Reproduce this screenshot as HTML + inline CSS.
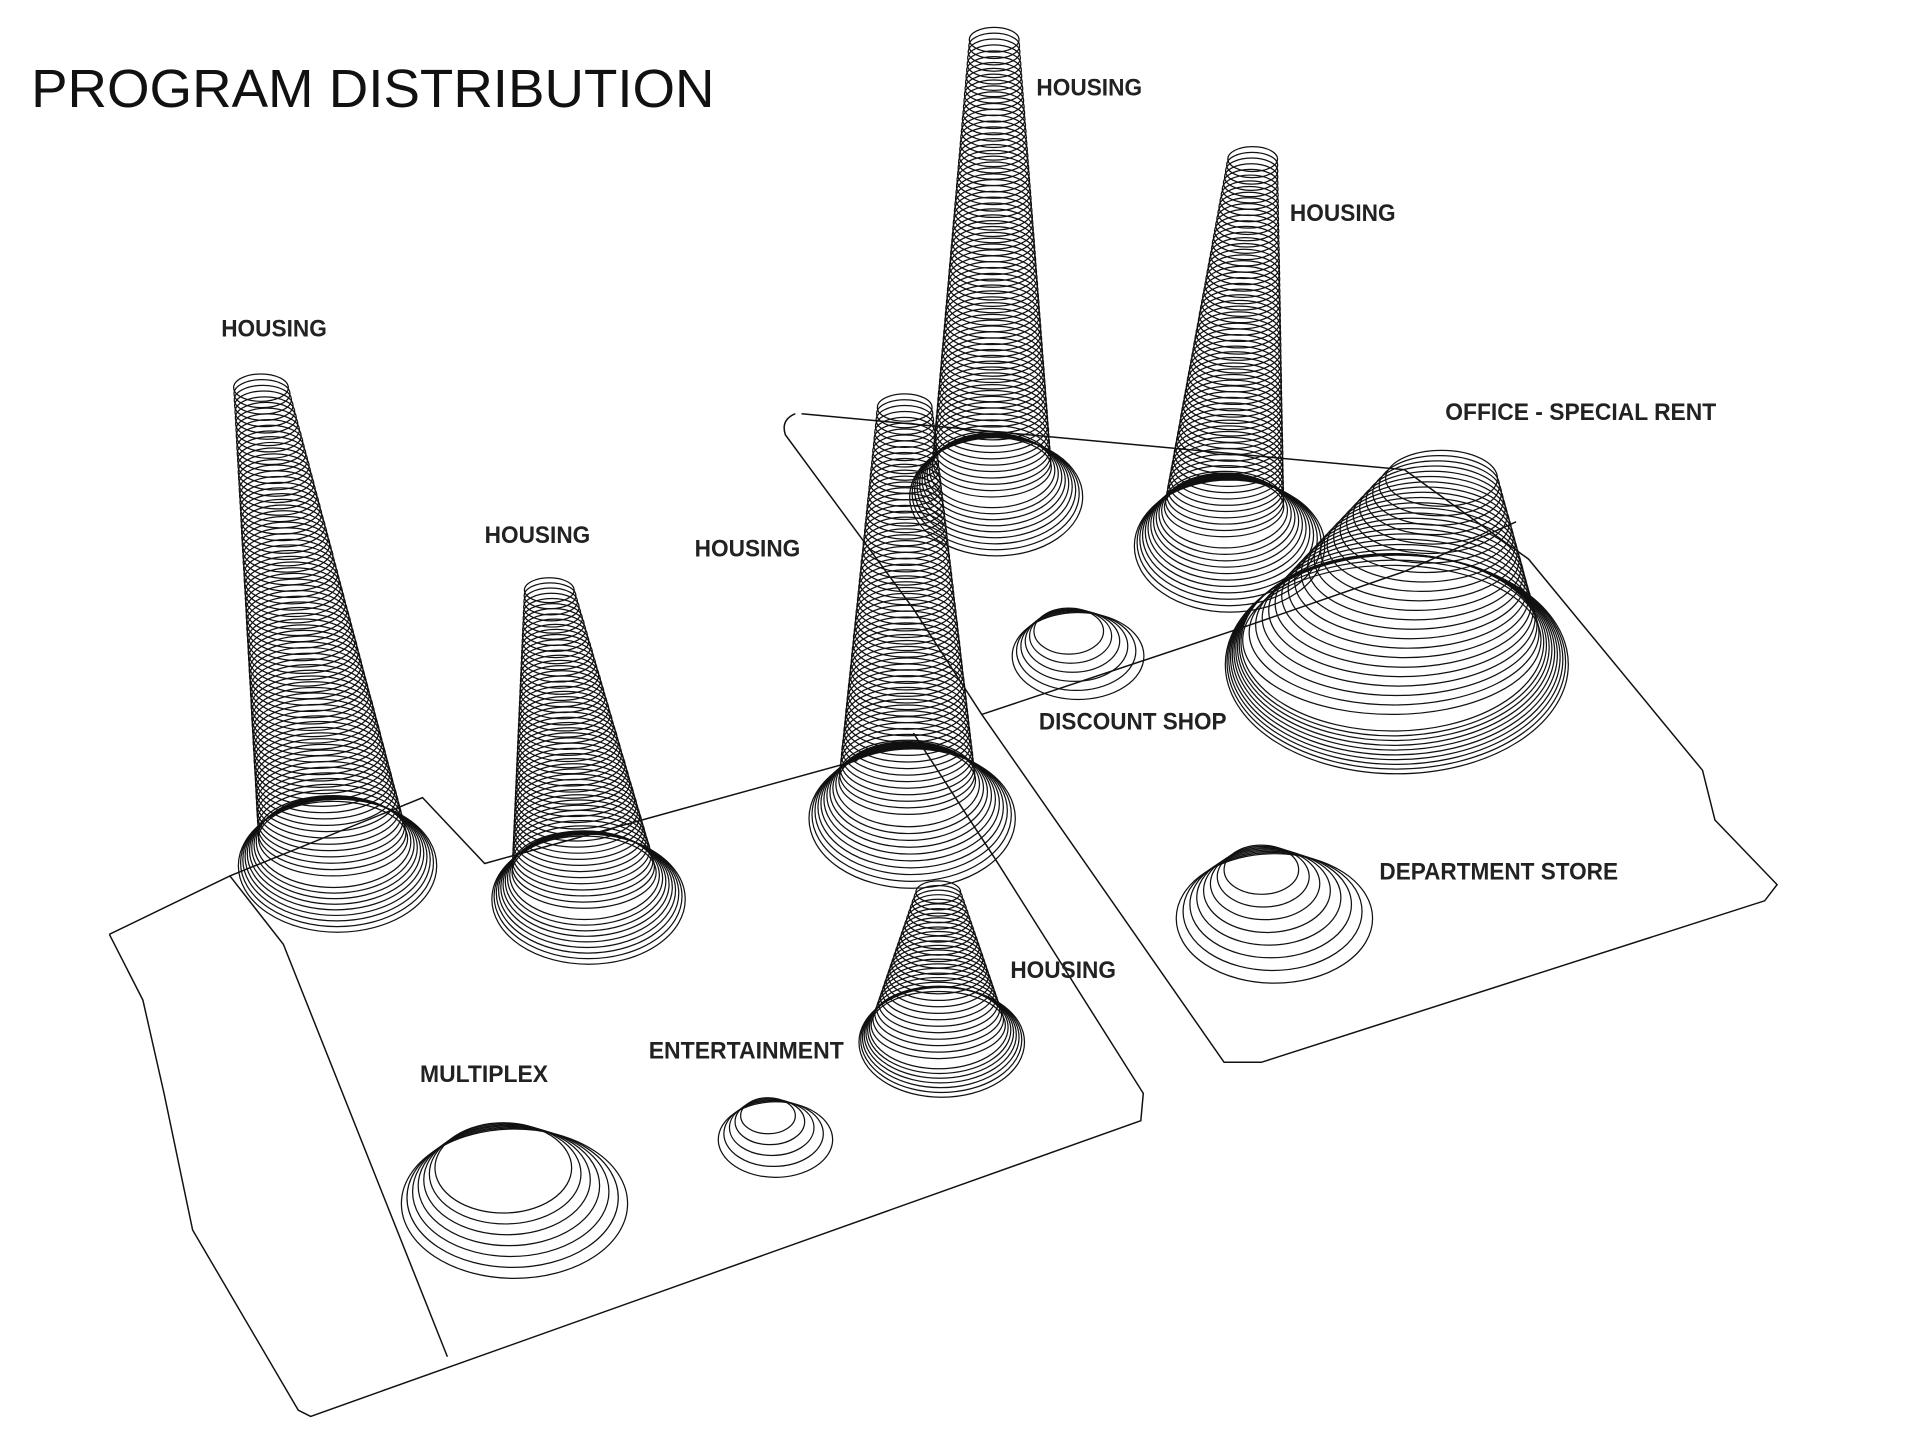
<!DOCTYPE html>
<html><head><meta charset="utf-8"><style>
html,body{margin:0;padding:0;background:#fff;}
svg{display:block;}
text{font-family:"Liberation Sans",sans-serif;}
</style></head><body>
<svg id="s" width="1920" height="1440" viewBox="0 0 1545 1159" preserveAspectRatio="none" xmlns="http://www.w3.org/2000/svg">
<rect width="1545" height="1159" fill="#fff"/>
<g fill="none" stroke="#111" stroke-width="1.2">
<path d="M88,752 L185,705 L340,642 L390,695 L690,612"/>
<path d="M88,752 L115,805 L132,880 L155,990 L240,1135 L250,1140 L918,902 L920,880 L800,690 L735,590"/>
<path d="M185,705 L228,760 L360,1092"/>
<path d="M640,333 Q628,338 632,350 L735,490 L790,575 L985,855 L1015,855 L1420,725 L1430,712 L1380,660 L1370,620 L1230,450 L1130,378 L645,333"/>
<path d="M790,575 L1000,505 L1130,460 L1220,420"/>
</g>
<g id="g" fill="none" stroke="#111" stroke-width="1"></g>
<text x="25" y="86" textLength="550" lengthAdjust="spacingAndGlyphs" style="font-size:43px;fill:#111">PROGRAM DISTRIBUTION</text>
<g font-family="Liberation Sans" font-size="19" font-weight="bold" fill="#222">
<text x="178" y="271" textLength="85" lengthAdjust="spacingAndGlyphs">HOUSING</text>
<text x="390" y="437" textLength="85" lengthAdjust="spacingAndGlyphs">HOUSING</text>
<text x="559" y="448" textLength="85" lengthAdjust="spacingAndGlyphs">HOUSING</text>
<text x="834" y="77" textLength="85" lengthAdjust="spacingAndGlyphs">HOUSING</text>
<text x="1038" y="178" textLength="85" lengthAdjust="spacingAndGlyphs">HOUSING</text>
<text x="1163" y="338" textLength="218" lengthAdjust="spacingAndGlyphs">OFFICE - SPECIAL RENT</text>
<text x="836" y="587" textLength="151" lengthAdjust="spacingAndGlyphs">DISCOUNT SHOP</text>
<text x="1110" y="708" textLength="192" lengthAdjust="spacingAndGlyphs">DEPARTMENT STORE</text>
<text x="813" y="787" textLength="85" lengthAdjust="spacingAndGlyphs">HOUSING</text>
<text x="522" y="852" textLength="157" lengthAdjust="spacingAndGlyphs">ENTERTAINMENT</text>
<text x="338" y="871" textLength="103" lengthAdjust="spacingAndGlyphs">MULTIPLEX</text>
</g>
</svg>
<script>
var g=document.getElementById('g'),out='';
function E(cx,cy,rx,ry){out+='<ellipse cx="'+cx.toFixed(1)+'" cy="'+cy.toFixed(1)+'" rx="'+rx.toFixed(1)+'" ry="'+ry.toFixed(1)+'"/>';}
function cone(tx,ty,trx,bx,by,brx,n,sk,skd){
 for(var i=0;i<=n;i++){var t=i/n;var rx=trx+(brx-trx)*t;E(tx+(bx-tx)*t,ty+(by-ty)*t,rx,rx*0.5);}
 for(var j=1;j<=sk;j++){var rx=brx+j*skd;E(bx+j*0.4,by+j*skd*1.1,rx,rx*0.58+j*0.8);}
}
function mound(cx,cy,r0,n,d){for(var j=0;j<n;j++){var rx=r0+j*d;E(cx+j*1.5,cy+j*d*0.8,rx,rx*0.66);}}
cone(210,312,22,268,675,60,75,9,2.2);
cone(442,475,20,470,702,58,50,9,2.2);
cone(728,328,22,730,628,55,60,10,2.8);
cone(800,32,20,798,376,48,70,9,2.4);
cone(1008,128,20,985,408,48,58,11,2.6);
cone(755,718,18,755,825,54,24,7,1.8);
cone(1160,385,45,1120,515,120,22,10,1.8);
mound(860,508,28,6,5);
mound(1015,700,30,8,7);
mound(405,940,55,7,6);
mound(618,898,22,5,6);
g.innerHTML=out;
</script>
</body></html>
